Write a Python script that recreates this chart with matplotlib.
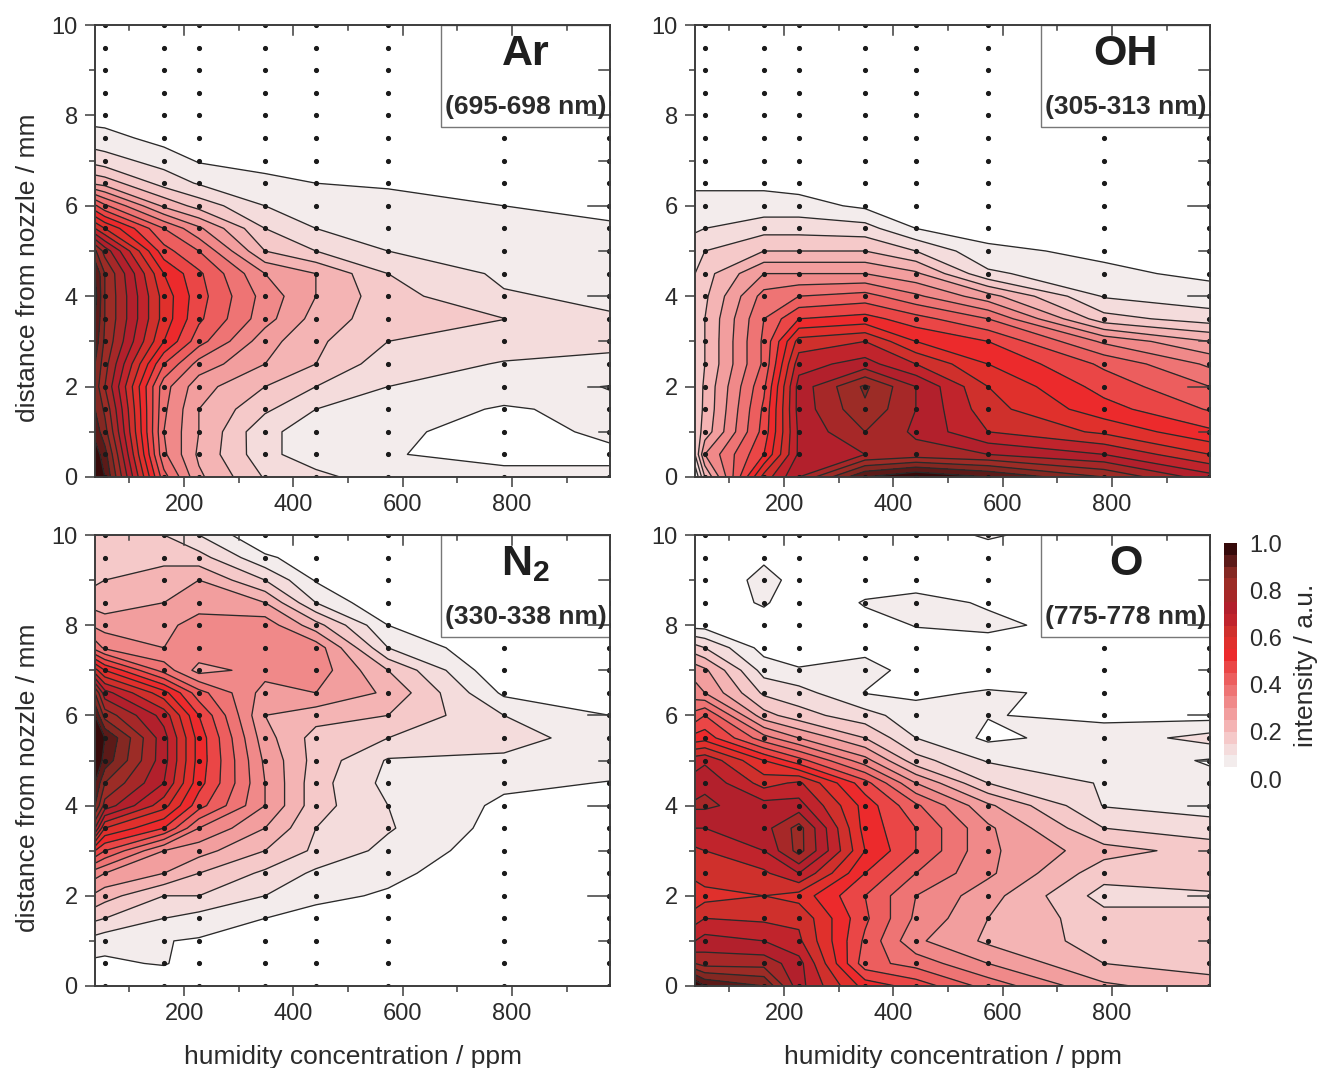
import numpy as np
import matplotlib
matplotlib.use("Agg")
import matplotlib.pyplot as plt
from matplotlib.patches import Rectangle
from matplotlib.ticker import MultipleLocator

plt.rcParams['font.family'] = ['Liberation Sans', 'DejaVu Sans']
plt.rcParams['mathtext.fontset'] = 'custom'
plt.rcParams['mathtext.bf'] = 'Liberation Sans:bold'

# grid
humidity = [37, 55, 163, 227, 348, 441, 573, 785, 979]
distance = [0, .5, 1, 1.5, 2, 2.5, 3, 3.5, 4, 4.5, 5, 5.5, 6, 6.5, 7, 7.5, 8, 8.5, 9, 9.5, 10]
dots_x = [55, 163, 227, 348, 441, 573, 785, 977]

# Ar
ar_37 = [1.0,.98,.93,.9,.88,.9,.93,.95,.97,.95,.86,.65,.46,.24,.13,.07,.03,0,0,0,0]
ar_55 = [.95,.92,.87,.84,.8,.82,.84,.85,.85,.85,.78,.6,.41,.23,.12,.07,.025,0,0,0,0]
ar_163 = [.42,.36,.35,.36,.37,.45,.55,.58,.58,.55,.47,.4,.24,.13,.08,.03,0,0,0,0,0]
ar_227 = [.26,.24,.25,.25,.27,.33,.42,.46,.47,.46,.4,.31,.18,.095,.045,.02,0,0,0,0,0]
ar_348 = [.145,.115,.11,.16,.2,.25,.27,.32,.33,.3,.2,.15,.1,.065,.03,0,0,0,0,0,0]
ar_441 = [.115,.07,.08,.1,.15,.2,.21,.23,.25,.25,.15,.1,.07,.05,.03,0,0,0,0,0,0]
ar_573 = [.07,.052,.055,.07,.1,.12,.15,.17,.17,.15,.1,.085,.065,.045,.02,0,0,0,0,0,0]
ar_785 = [.06,.04,.04,.046,.07,.097,.12,.151,.105,.09,.08,.065,.05,.03,0,0,0,0,0,0,0]
ar_979 = [.055,.045,.055,.06,.048,.095,.105,.105,.09,.07,.06,.055,.04,.02,0,0,0,0,0,0,0]

# OH
oh_37 = [.05,.15,.17,.17,.16,.16,.16,.16,.16,.15,.12,.095,.07,.04,.02,0,0,0,0,0,0]
oh_55 = [.2,.3,.22,.21,.21,.2,.2,.2,.19,.18,.15,.1,.07,.04,.02,0,0,0,0,0,0]
oh_163 = [.62,.5,.47,.46,.44,.41,.41,.4,.37,.3,.2,.13,.07,.04,.02,0,0,0,0,0,0]
oh_227 = [.75,.71,.71,.72,.72,.68,.62,.5,.4,.3,.2,.13,.07,.03,.01,0,0,0,0,0,0]
oh_348 = [.95,.75,.8,.84,.86,.72,.65,.52,.42,.3,.2,.12,.04,.02,0,0,0,0,0,0,0]
oh_441 = [1.0,.77,.74,.75,.75,.65,.55,.47,.36,.26,.15,.05,.03,0,0,0,0,0,0,0,0]
oh_573 = [.95,.75,.65,.62,.6,.55,.5,.4,.27,.11,.06,.03,0,0,0,0,0,0,0,0,0]
oh_785 = [.85,.7,.59,.52,.48,.44,.34,.17,.095,.06,.04,.02,0,0,0,0,0,0,0,0,0]
oh_979 = [.72,.6,.51,.445,.4,.34,.25,.125,.07,.04,.03,.015,0,0,0,0,0,0,0,0,0]

# N2
n2_37 = [.02,.04,.08,.16,.24,.32,.5,.75,.9,.95,1.0,1.0,.95,.85,.62,.38,.29,.23,.19,.17,.17]
n2_55 = [.02,.04,.07,.15,.22,.3,.45,.6,.78,.85,.93,.95,.83,.72,.55,.34,.28,.22,.2,.17,.17]
n2_163 = [0,.055,.052,.1,.15,.25,.3,.5,.62,.7,.72,.72,.68,.57,.38,.3,.28,.25,.25,.17,.15]
n2_227 = [0,.02,.045,.08,.15,.2,.27,.35,.47,.52,.53,.53,.5,.42,.28,.34,.33,.27,.25,.17,.1]
n2_348 = [0,0,.03,.05,.1,.14,.2,.25,.3,.3,.29,.27,.25,.28,.32,.34,.33,.25,.15,.06,0]
n2_441 = [0,0,0,.035,.06,.09,.14,.15,.17,.17,.18,.18,.22,.3,.33,.33,.22,.1,.045,.02,0]
n2_573 = [0,0,0,.02,.045,.06,.085,.105,.1,.085,.095,.15,.2,.24,.2,.1,.05,0,0,0,0]
n2_785 = [0,0,0,0,.01,.02,.02,.03,.04,.06,.09,.12,.1,.04,0,0,0,0,0,0,0]
n2_979 = [0,0,0,0,0,0,0,0,.03,.048,.07,.075,.05,.02,0,0,0,0,0,0,0]

# O
o_37 = [1.0,.8,.7,.63,.56,.62,.64,.7,.76,.72,.68,.52,.42,.32,.28,.17,.03,0,0,0,0]
o_55 = [.95,.78,.72,.65,.58,.63,.65,.7,.76,.74,.69,.53,.45,.3,.26,.15,.03,0,0,0,0]
o_163 = [.9,.78,.7,.64,.6,.64,.7,.73,.72,.63,.55,.37,.22,.14,.08,.03,.01,.06,.07,.04,0]
o_227 = [.72,.72,.66,.64,.58,.7,.82,.82,.72,.66,.47,.3,.17,.12,.055,.02,.01,0,.03,0,0]
o_348 = [.53,.42,.44,.46,.45,.5,.55,.53,.53,.47,.32,.2,.12,.048,.07,.035,.03,.055,.02,.01,0]
o_441 = [.48,.38,.31,.34,.35,.4,.45,.45,.41,.3,.17,.1,.07,.04,.03,.03,.052,.065,.03,.02,.01]
o_573 = [.38,.3,.24,.25,.27,.31,.31,.31,.26,.15,.095,.04,.052,.055,.02,.03,.06,.045,.02,.01,.06]
o_785 = [.26,.2,.18,.17,.13,.17,.22,.15,.097,.095,.08,.07,.04,.04,.03,.03,.03,.02,.02,.01,0]
o_979 = [.22,.18,.16,.16,.14,.19,.18,.12,.08,.065,.045,.12,.03,.02,.01,.01,.01,.01,0,0,0]

panels = [
    ("Ar", "(695-698 nm)", [ar_37, ar_55, ar_163, ar_227, ar_348, ar_441, ar_573, ar_785, ar_979]),
    ("OH", "(305-313 nm)", [oh_37, oh_55, oh_163, oh_227, oh_348, oh_441, oh_573, oh_785, oh_979]),
    (r"$\mathbf{N_2}$", "(330-338 nm)", [n2_37, n2_55, n2_163, n2_227, n2_348, n2_441, n2_573, n2_785, n2_979]),
    ("O", "(775-778 nm)", [o_37, o_55, o_163, o_227, o_348, o_441, o_573, o_785, o_979]),
]
levels = [.05, .1, .15, .2, .25, .3, .35, .4, .45, .5, .55, .6, .65, .7, .75, .8, .85, .9, .95, 1.001]
band_colors = ['#f3ecec', '#f4dcdc', '#f5c9c9', '#f4b4b4', '#f29e9e', '#f08989', '#ee7474',
               '#ec5e5e', '#ea4646', '#ec2a2c', '#e0302c', '#cf302c', '#c0242c', '#b2202c',
               '#a62828', '#9c2c26', '#842822', '#5c1a18', '#360a0a']

W, H = 1320, 1068
fig = plt.figure(figsize=(W / 100, H / 100), dpi=100)
TXT = '#2b2b2b'
AX = '#3c3c3c'


def rect(x0, y0, x1, y1):
    return [x0 / W, 1 - y1 / H, (x1 - x0) / W, (y1 - y0) / H]


boxes = [(95, 25, 610, 477), (695, 25, 1210, 477), (95, 535, 610, 986), (695, 535, 1210, 986)]
for i, ((name, band, cols), b) in enumerate(zip(panels, boxes)):
    ax = fig.add_axes(rect(*b))
    Z = np.column_stack(cols)
    ax.contourf(humidity, distance, Z, levels=levels, colors=band_colors, zorder=1)
    ax.contour(humidity, distance, Z, levels=levels[:-1], colors='#2a2a2a', linewidths=0.95, zorder=2)
    xx, yy = np.meshgrid(dots_x, distance)
    ax.plot(xx.ravel(), yy.ravel(), ls='none', marker='o', ms=2.7, color='#1a1a1a', zorder=3, clip_on=True)
    ax.set_xlim(37, 979)
    ax.set_ylim(0, 10)
    ax.xaxis.set_major_locator(MultipleLocator(200))
    ax.xaxis.set_minor_locator(MultipleLocator(100))
    ax.yaxis.set_major_locator(MultipleLocator(2))
    ax.yaxis.set_minor_locator(MultipleLocator(1))
    ax.tick_params(axis='both', which='major', direction='out', length=7.5, width=1.1,
                   labelsize=17, colors=AX, labelcolor=TXT, pad=5)
    ax.tick_params(axis='both', which='minor', direction='out', length=4, width=1.1, colors=AX)
    for s in ax.spines.values():
        s.set_color(AX)
        s.set_linewidth(1.4)
        s.set_zorder(6)
    # mirrored inward ticks on top and right
    for v in np.arange(200, 979, 200):
        ax.plot([v, v], [10, 9.78], color=AX, lw=1.1, zorder=5, clip_on=True)
    for v in np.arange(100, 979, 200):
        ax.plot([v, v], [10, 9.88], color=AX, lw=1.1, zorder=5, clip_on=True)
    for v in np.arange(2, 10, 2):
        ax.plot([979, 979 - 40], [v, v], color=AX, lw=1.1, zorder=5, clip_on=True)
    for v in np.arange(1, 10, 2):
        ax.plot([979, 979 - 20], [v, v], color=AX, lw=1.1, zorder=5, clip_on=True)
    # label box
    bx0 = (441 - 95) / 515
    by0 = 1 - (127 - 25) / 452
    ax.add_patch(Rectangle((bx0, by0), 1 - bx0, 1 - by0, transform=ax.transAxes, facecolor='white',
                           edgecolor='#777777', lw=1.0, zorder=4))
    cx = (bx0 + 1) / 2
    ax.text(cx, 1 - 29 / 452, name, transform=ax.transAxes, ha='center', va='center',
            fontsize=31, fontweight='bold', color='#1e1e1e', zorder=7)
    ax.text(cx, 1 - 82 / 452, band, transform=ax.transAxes, ha='center', va='center',
            fontsize=19, fontweight='bold', color='#2b2b2b', zorder=7)
    if i in (0, 2):
        ax.set_ylabel('distance from nozzle / mm', fontsize=19, color=TXT)
        ax.yaxis.set_label_coords(-0.107, 0.462)
    if i >= 2:
        ax.set_xlabel('humidity concentration / ppm', fontsize=19, color=TXT, labelpad=14)

# colour scale
cax = fig.add_axes(rect(1224, 543, 1237, 779))
edges = np.array(levels)
for k, c in enumerate(band_colors):
    cax.bar(0.5, edges[k + 1] - edges[k], bottom=edges[k], width=1, color=c, linewidth=0)
cax.set_xlim(0, 1)
cax.set_ylim(0, 1)
cax.set_xticks([])
cax.yaxis.tick_right()
cax.set_yticks([0, .2, .4, .6, .8, 1.0])
cax.set_yticklabels(['0.0', '0.2', '0.4', '0.6', '0.8', '1.0'])
cax.tick_params(axis='y', length=0, labelsize=17, labelcolor=TXT, pad=9)
for s in cax.spines.values():
    s.set_visible(False)
cax.yaxis.set_label_position('right')
cax.set_ylabel('intensity / a.u.', fontsize=19, color=TXT)
cax.yaxis.set_label_coords(5.4, 0.48)

fig.savefig('out.png', dpi=100)
